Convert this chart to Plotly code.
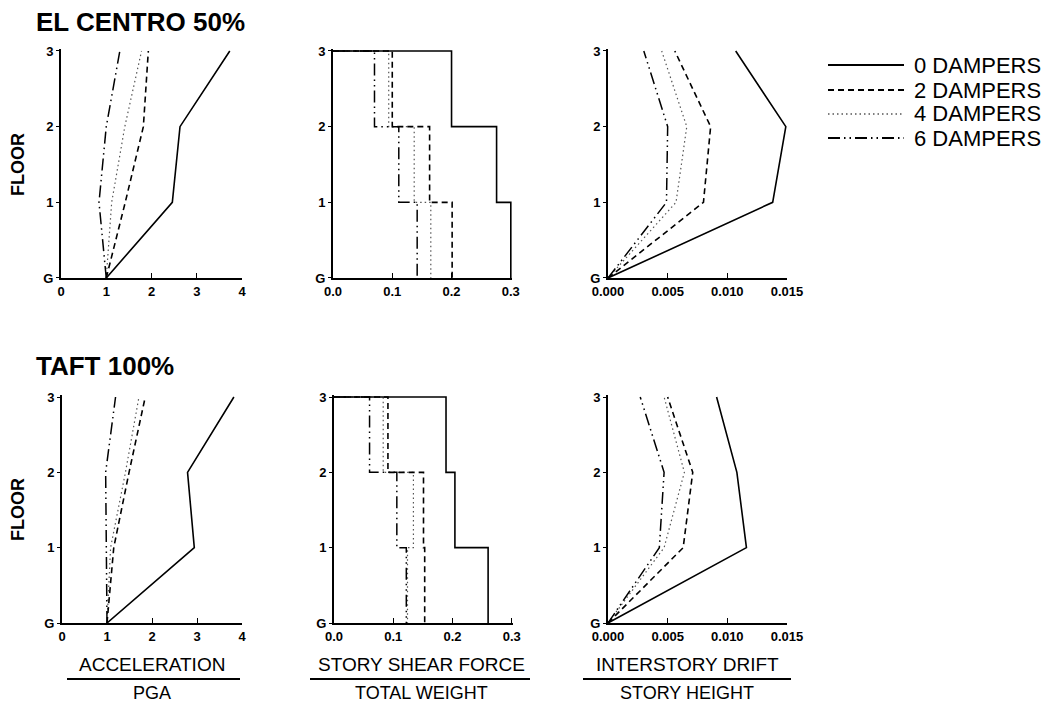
import plotly.graph_objects as go

W, H = 1051, 706
FONT = "Liberation Sans"

# ---- data -------------------------------------------------------------
floors = [0, 1, 2, 3]
floor_labels = ["G", "1", "2", "3"]
series_names = ["0 DAMPERS", "2 DAMPERS", "4 DAMPERS", "6 DAMPERS"]

# El Centro 50% : acceleration / PGA at floors G,1,2,3
acc_ec_0 = [1.00, 2.46, 2.63, 3.73]
acc_ec_2 = [1.00, 1.42, 1.82, 1.93]
acc_ec_4 = [1.00, 1.12, 1.41, 1.78]
acc_ec_6 = [1.00, 0.84, 1.00, 1.30]

# El Centro 50% : story shear / total weight for stories 1,2,3
sh_ec_0 = [0.300, 0.276, 0.200]
sh_ec_2 = [0.201, 0.163, 0.100]
sh_ec_4 = [0.165, 0.137, 0.094]
sh_ec_6 = [0.142, 0.111, 0.070]

# El Centro 50% : interstory drift / story height at floors G,1,2,3
dr_ec_0 = [0.0, 0.0138, 0.0149, 0.0107]
dr_ec_2 = [0.0, 0.0080, 0.0086, 0.0056]
dr_ec_4 = [0.0, 0.0057, 0.0066, 0.0045]
dr_ec_6 = [0.0, 0.0049, 0.0050, 0.0030]

# Taft 100%
acc_tf_0 = [1.00, 2.94, 2.79, 3.82]
acc_tf_2 = [1.00, 1.15, 1.49, 1.85]
acc_tf_4 = [1.00, 1.08, 1.41, 1.71]
acc_tf_6 = [1.00, 0.99, 0.97, 1.19]

sh_tf_0 = [0.260, 0.204, 0.189]
sh_tf_2 = [0.153, 0.151, 0.091]
sh_tf_4 = [0.124, 0.134, 0.083]
sh_tf_6 = [0.122, 0.106, 0.060]

dr_tf_0 = [0.0, 0.0116, 0.0108, 0.0091]
dr_tf_2 = [0.0, 0.0063, 0.0071, 0.0050]
dr_tf_4 = [0.0, 0.0047, 0.0064, 0.0047]
dr_tf_6 = [0.0, 0.0043, 0.0047, 0.0027]

acc_ticks = [0, 1, 2, 3, 4]
acc_ticktext = ["0", "1", "2", "3", "4"]
sh_ticks = [0.0, 0.1, 0.2, 0.3]
sh_ticktext = ["0.0", "0.1", "0.2", "0.3"]
dr_ticks = [0.0, 0.005, 0.010, 0.015]
dr_ticktext = ["0.000", "0.005", "0.010", "0.015"]

# ---- line styles ------------------------------------------------------
styles = [
    dict(color="black", width=1.6, dash="solid"),
    dict(color="black", width=1.6, dash="6px,4px"),
    dict(color="#555555", width=1.2, dash="1.5px,3px"),
    dict(color="black", width=1.5, dash="12px,4px,1.5px,4px,1.5px,4px"),
]
draw_order = [2, 3, 1, 0]


def xdom(a, b):
    return [a / W, b / W]


def ydom(top, bottom):
    return [1 - bottom / H, 1 - top / H]


def step_xy(vals):
    s1, s2, s3 = vals
    return [0, s3, s3, s2, s2, s1, s1], [3, 3, 2, 2, 1, 1, 0]


fig = go.Figure()

panels = [
    ([acc_ec_0, acc_ec_2, acc_ec_4, acc_ec_6], "profile", [0, 4], (61, 242), (51, 278), acc_ticks, acc_ticktext),
    ([sh_ec_0, sh_ec_2, sh_ec_4, sh_ec_6], "step", [0, 0.302], (333, 512), (51, 278), sh_ticks, sh_ticktext),
    ([dr_ec_0, dr_ec_2, dr_ec_4, dr_ec_6], "profile", [0, 0.015], (608, 787), (51, 278), dr_ticks, dr_ticktext),
    ([acc_tf_0, acc_tf_2, acc_tf_4, acc_tf_6], "profile", [0, 4], (62, 242), (397, 623), acc_ticks, acc_ticktext),
    ([sh_tf_0, sh_tf_2, sh_tf_4, sh_tf_6], "step", [0, 0.302], (334, 513), (397, 623), sh_ticks, sh_ticktext),
    ([dr_tf_0, dr_tf_2, dr_tf_4, dr_tf_6], "profile", [0, 0.015], (608, 787), (397, 623), dr_ticks, dr_ticktext),
]

layout_axes = {}
for i, (series, kind, xr, xd, yd, tv, tt) in enumerate(panels, start=1):
    xa = "x" if i == 1 else f"x{i}"
    ya = "y" if i == 1 else f"y{i}"
    for k in draw_order:
        vals = series[k]
        if kind == "step":
            xs, ys = step_xy(vals)
        else:
            xs, ys = vals, floors
        fig.add_trace(go.Scatter(
            x=xs, y=ys, mode="lines", line=styles[k], name=series_names[k],
            showlegend=False, xaxis=xa, yaxis=ya, hoverinfo="skip",
        ))
    top_px = yd[0] - 0.02 / 3 * (yd[1] - yd[0])
    layout_axes["xaxis" if i == 1 else f"xaxis{i}"] = dict(
        domain=xdom(*xd), range=xr, anchor=ya, showgrid=False, zeroline=False,
        showline=True, linecolor="black", linewidth=1.6, automargin=False,
        ticks="inside", ticklen=5, tickwidth=1.2, tickcolor="black",
        tickvals=tv, ticktext=tt, ticklabelstandoff=1,
        tickfont=dict(family=FONT, size=13, color="black", weight="bold"),
    )
    layout_axes["yaxis" if i == 1 else f"yaxis{i}"] = dict(
        domain=ydom(top_px, yd[1]), range=[0, 3.02], anchor=xa, showgrid=False,
        zeroline=False, showline=True, linecolor="black", linewidth=2, automargin=False,
        ticks="outside", ticklen=3, tickwidth=1.2, tickcolor="black",
        tickvals=floors, ticktext=floor_labels,
        tickfont=dict(family=FONT, size=13, color="black", weight="bold"),
    )

annotations = []
shapes = []

# chart titles
for text, y in [("EL CENTRO 50%", 22), ("TAFT 100%", 366)]:
    annotations.append(dict(
        text=text, x=34 / W, y=1 - y / H, xref="paper", yref="paper",
        xanchor="left", yanchor="middle", showarrow=False,
        font=dict(family=FONT, size=26, color="black", weight="bold"),
    ))

# FLOOR labels
for yc in [165, 510]:
    annotations.append(dict(
        text="FLOOR", x=18 / W, y=1 - yc / H, xref="paper", yref="paper",
        xanchor="center", yanchor="middle", textangle=-90, showarrow=False,
        font=dict(family=FONT, size=18, color="black", weight="bold"),
    ))

# quotient axis labels under the bottom row
quotients = [
    ("ACCELERATION", "PGA", 152, 67, 240),
    ("STORY SHEAR FORCE", "TOTAL WEIGHT", 421, 310, 530),
    ("INTERSTORY DRIFT", "STORY HEIGHT", 687, 583, 791),
]
for num, den, xc, x0, x1 in quotients:
    annotations.append(dict(
        text=num, x=xc / W, y=1 - 664 / H, xref="paper", yref="paper",
        xanchor="center", yanchor="middle", showarrow=False,
        font=dict(family=FONT, size=19, color="black"),
    ))
    annotations.append(dict(
        text=den, x=xc / W, y=1 - 693 / H, xref="paper", yref="paper",
        xanchor="center", yanchor="middle", showarrow=False,
        font=dict(family=FONT, size=18, color="black"), borderpad=0,
    ))
    shapes.append(dict(
        type="line", xref="paper", yref="paper", x0=x0 / W, x1=x1 / W,
        y0=1 - 679 / H, y1=1 - 679 / H, line=dict(color="black", width=2),
    ))

# legend
legend_rows = [65, 90, 114, 138]
for k, yrow in enumerate(legend_rows):
    st = styles[k]
    shapes.append(dict(
        type="line", xref="paper", yref="paper", x0=828 / W, x1=904 / W,
        y0=1 - yrow / H, y1=1 - yrow / H,
        line=dict(color=st["color"], width=st["width"] + 0.4, dash=st["dash"]),
    ))
    annotations.append(dict(
        text=series_names[k], x=912 / W, y=1 - yrow / H, xref="paper", yref="paper",
        xanchor="left", yanchor="middle", showarrow=False,
        font=dict(family=FONT, size=22, color="black"),
    ))

fig.update_layout(
    width=W, height=H, margin=dict(l=0, r=0, t=0, b=0, autoexpand=False),
    paper_bgcolor="white", plot_bgcolor="white", showlegend=False,
    annotations=annotations, shapes=shapes, **layout_axes,
)

fig.write_html("out.html")
